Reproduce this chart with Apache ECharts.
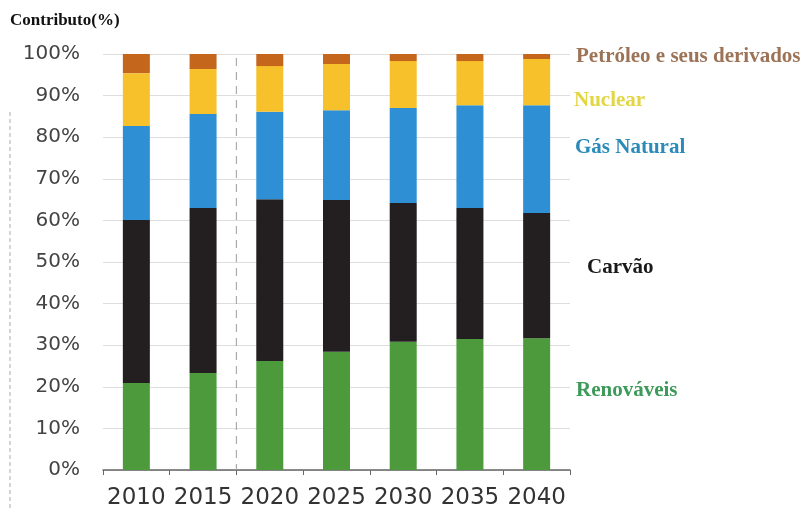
<!DOCTYPE html>
<html>
<head>
<meta charset="utf-8">
<script src="https://cdn.jsdelivr.net/npm/echarts@6/dist/echarts.min.js"></script>
<style>html,body{margin:0;padding:0;background:#fff}#c{width:811px;height:509px}</style>
</head>
<body>
<div id="c"></div>
<script>
const years = ['2010','2015','2020','2025','2030','2035','2040'];
const renovaveis = [20.9, 23.3, 26.2, 28.4, 30.8, 31.5, 31.7];
const carvao     = [39.2, 39.7, 38.9, 36.5, 33.4, 31.5, 30.1];
const gasNatural = [22.6, 22.6, 21.0, 21.6, 22.8, 24.7, 25.9];
const nuclear    = [12.7, 10.8, 11.0, 11.1, 11.3, 10.6, 11.1];
const petroleo   = [4.6, 3.6, 2.9, 2.4, 1.7, 1.7, 1.2];
const yTicks = [0,10,20,30,40,50,60,70,80,90,100];

const chart = echarts.init(document.getElementById('c'));
const mk = (name, data, color) => ({
  name, type: 'bar', stack: 'total', data, barWidth: 27,
  itemStyle: { color }, emphasis: { disabled: true }
});
const serif = '"Liberation Serif", "Times New Roman", serif';
const labelText = (text, x, y, color, size) => ({
  type: 'text', left: x, top: y - size/2 - 1,
  style: { text, fill: color, font: 'bold ' + size + 'px ' + serif }
});

chart.setOption({
  animation: false,
  grid: { left: 103, right: 241, top: 54, bottom: 39, containLabel: false, outerBoundsMode: 'none' },
  xAxis: {
    type: 'category', data: years,
    axisLine: { lineStyle: { color: '#666', width: 1.5 } },
    axisTick: { show: true, length: 5, lineStyle: { color: '#666' } },
    axisLabel: { interval: 0, color: '#333', fontSize: 23, fontFamily: '"DejaVu Sans", sans-serif', margin: 17 }
  },
  yAxis: {
    type: 'value', min: yTicks[0], max: yTicks[yTicks.length - 1], interval: 10,
    axisLine: { show: false }, axisTick: { show: false },
    splitLine: { lineStyle: { color: '#dedede', width: 1 } },
    axisLabel: { formatter: '{value}%', color: '#444', fontSize: 20, fontFamily: '"DejaVu Sans", sans-serif', margin: 23 }
  },
  series: [
    mk('Renováveis', renovaveis, '#4d9a3c'),
    mk('Carvão', carvao, '#231f20'),
    mk('Gás Natural', gasNatural, '#2f8fd5'),
    mk('Nuclear', nuclear, '#f7c12c'),
    mk('Petróleo e seus derivados', petroleo, '#c4661c')
  ]
});

// dashed separators (decorations) positioned from the axes
const x15 = chart.convertToPixel({ xAxisIndex: 0 }, '2015');
const x20 = chart.convertToPixel({ xAxisIndex: 0 }, '2020');
const yTop = chart.convertToPixel({ yAxisIndex: 0 }, 100);
const yBot = chart.convertToPixel({ yAxisIndex: 0 }, 0);
const xm = (x15 + x20) / 2;
chart.setOption({
  graphic: [
    labelText('Contributo(%)', 10, 22, '#111', 17),
    labelText('Petróleo e seus derivados', 576, 58, '#9c7356', 21),
    labelText('Nuclear', 574, 102, '#e3d645', 21),
    labelText('Gás Natural', 575, 149, '#2b8ab8', 21),
    labelText('Carvão', 587, 269, '#1a1a1a', 21),
    labelText('Renováveis', 576, 392, '#3d9a5a', 21),
    { type: 'line', shape: { x1: xm, y1: yTop + 4, x2: xm, y2: yBot }, style: { stroke: '#aaa', lineWidth: 1.2, lineDash: [8, 6] }, z: 1 },
    { type: 'line', shape: { x1: 10, y1: 112, x2: 10, y2: 509 }, style: { stroke: '#aaa', lineWidth: 1, lineDash: [4, 3] }, z: 1 }
  ]
});
</script>
</body>
</html>
